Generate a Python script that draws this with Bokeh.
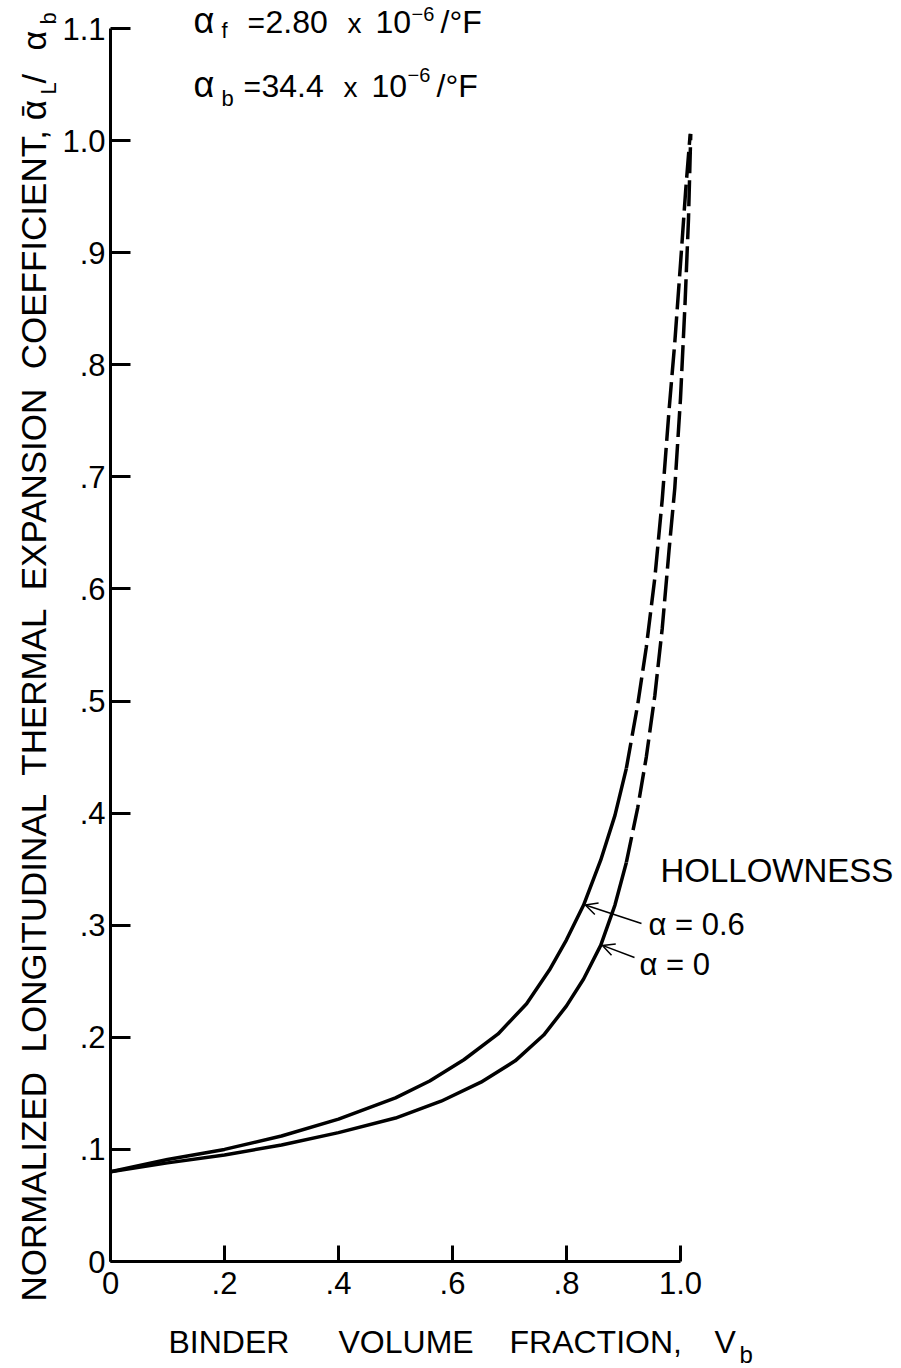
import math
from bokeh.plotting import figure
from bokeh.models import Label, Arrow, OpenHead, FixedTicker, Range1d
from bokeh.embed import file_html
from bokeh.resources import INLINE

# ---------------- data ----------------
x_ticks = [0.0, 0.2, 0.4, 0.6, 0.8, 1.0]
x_tick_labels = ["0", ".2", ".4", ".6", ".8", "1.0"]
y_ticks = [0.0, 0.1, 0.2, 0.3, 0.4, 0.5, 0.6, 0.7, 0.8, 0.9, 1.0, 1.1]
y_tick_labels = ["0", ".1", ".2", ".3", ".4", ".5", ".6", ".7", ".8", ".9", "1.0", "1.1"]

# hollowness a = 0.6 (upper curve)
hollow06_x = [0.0, 0.10, 0.20, 0.30, 0.40, 0.50, 0.56, 0.62, 0.68, 0.73, 0.77, 0.80,
              0.83, 0.86, 0.885, 0.905, 0.925, 0.94, 0.955, 0.968, 0.98, 0.99, 1.0,
              1.009, 1.017]
hollow06_y = [0.080, 0.091, 0.100, 0.112, 0.127, 0.146, 0.161, 0.180, 0.203, 0.230,
              0.260, 0.287, 0.318, 0.358, 0.398, 0.440, 0.497, 0.548, 0.610, 0.680,
              0.760, 0.820, 0.890, 0.955, 1.006]
hollow06_dash_from = 15   # dashed from this point on
hollow06_arrow = 12       # arrow points here

# hollowness a = 0 (lower curve)
hollow0_x = [0.0, 0.10, 0.20, 0.30, 0.40, 0.50, 0.58, 0.65, 0.71, 0.76, 0.80, 0.83,
             0.86, 0.885, 0.905, 0.925, 0.94, 0.955, 0.968, 0.98, 0.99, 1.0, 1.008,
             1.014, 1.018]
hollow0_y = [0.080, 0.088, 0.095, 0.104, 0.115, 0.128, 0.143, 0.160, 0.179, 0.202,
             0.228, 0.252, 0.282, 0.318, 0.356, 0.405, 0.450, 0.505, 0.565, 0.635,
             0.690, 0.770, 0.855, 0.930, 1.006]
hollow0_dash_from = 14
hollow0_arrow = 12

# ---------------- layout ----------------
W, H = 901, 1368
X0PX, X1PX = 110, 680      # pixel of x=0 and x=1.0
Y0PY, Y1PY = 1261, 28      # pixel of y=0 and y=1.1
xscale = (X1PX - X0PX) / 1.0
yscale = (Y0PY - Y1PY) / 1.1
K = 0.37                   # baseline correction (fraction of font size)

def X(px):
    return (px - X0PX) / xscale

def Y(py):
    return (Y0PY - py) / yscale

FONT = "Liberation Sans"

p = figure(width=W, height=H, output_backend="svg", toolbar_location=None,
           x_range=Range1d(X(0), X(W)), y_range=Range1d(Y(H), Y(0)),
           min_border_left=0, min_border_right=0, min_border_top=0,
           min_border_bottom=0)
p.outline_line_color = None
p.grid.visible = False
p.background_fill_color = "white"
p.border_fill_color = "white"

xa = p.xaxis[0]
xa.fixed_location = 0
xa.bounds = (0, 1.0)
xa.ticker = FixedTicker(ticks=x_ticks)
xa.major_label_overrides = {t: l for t, l in zip(x_ticks, x_tick_labels)}
xa.major_tick_in = 16
xa.major_tick_out = 0
xa.minor_tick_in = 0
xa.minor_tick_out = 0
xa.axis_line_width = 3
xa.major_tick_line_width = 3
xa.major_label_text_font = FONT
xa.major_label_text_font_size = "31px"
xa.major_label_text_color = "black"
xa.major_label_standoff = 10

ya = p.yaxis[0]
ya.fixed_location = 0
ya.bounds = (0, 1.1)
ya.ticker = FixedTicker(ticks=y_ticks)
ya.major_label_overrides = {t: l for t, l in zip(y_ticks, y_tick_labels)}
ya.major_tick_in = 20
ya.major_tick_out = 0
ya.minor_tick_in = 0
ya.minor_tick_out = 0
ya.axis_line_width = 3
ya.major_tick_line_width = 3
ya.major_label_text_font = FONT
ya.major_label_text_font_size = "31px"
ya.major_label_text_color = "black"
ya.major_label_standoff = 5

# ---------------- curves ----------------
for xs, ys, k in [(hollow06_x, hollow06_y, hollow06_dash_from),
                  (hollow0_x, hollow0_y, hollow0_dash_from)]:
    p.line(xs[:k + 1], ys[:k + 1], line_color="black", line_width=3.5,
           line_join="round")
    p.line(xs[k:], ys[k:], line_color="black", line_width=3.5, line_dash="26 7",
           line_join="round")

# ---------------- texts ----------------
def lab(text, px, py, size, align="left", angle=0.0):
    if angle == 0.0:
        py = py - K * size
    else:
        px = px - K * size
    p.add_layout(Label(x=X(px), y=Y(py), text=text, text_font=FONT,
                       text_font_size=f"{size}px", text_color="black",
                       text_align=align, text_baseline="alphabetic", angle=angle))

# top annotations
lab("\u03b1", 193, 33, 36)
lab("f", 221, 38, 22)
lab("=", 247, 33, 30)
lab("2.80", 265, 33, 32)
lab("x", 347, 33, 28)
lab("10", 375, 33, 32)
lab("\u22126", 411, 21, 20)
lab("/\u00b0F", 440, 33, 32)

lab("\u03b1", 193, 97, 36)
lab("b", 221, 106, 22)
lab("=", 243, 97, 30)
lab("34.4", 261, 97, 32)
lab("x", 343, 97, 28)
lab("10", 371, 97, 32)
lab("\u22126", 407, 82, 20)
lab("/\u00b0F", 436, 97, 32)

# curve labels
lab("HOLLOWNESS", 660, 882, 33)
lab("\u03b1 = 0.6", 648, 935, 31)
lab("\u03b1 = 0", 639, 975, 31)

p.add_layout(Arrow(end=OpenHead(size=12, line_width=1.5, line_color="black"),
                   x_start=X(641), y_start=Y(923),
                   x_end=hollow06_x[hollow06_arrow] + 0.003,
                   y_end=hollow06_y[hollow06_arrow],
                   line_width=1.5, line_color="black"))
p.add_layout(Arrow(end=OpenHead(size=12, line_width=1.5, line_color="black"),
                   x_start=X(634), y_start=Y(957),
                   x_end=hollow0_x[hollow0_arrow] + 0.003,
                   y_end=hollow0_y[hollow0_arrow],
                   line_width=1.5, line_color="black"))

# x-axis title
lab("BINDER", 168, 1353, 32)
lab("VOLUME", 338, 1353, 32)
lab("FRACTION,", 509, 1353, 32)
lab("V", 714, 1353, 32)
lab("b", 739, 1363, 24)

# y-axis title (rotated, reads bottom to top)
ang = math.pi / 2
sp = " \u00a0"
lab(sp.join(["NORMALIZED", "LONGITUDINAL", "THERMAL", "EXPANSION",
             "COEFFICIENT,"]) + " \u1fb1", 46, 97, 35, align="right", angle=ang)
lab("L", 56, 94, 22, angle=ang)
lab("/", 46, 83, 34, angle=ang)
lab("\u03b1", 46, 50, 34, angle=ang)
lab("b", 56, 24, 22, angle=ang)

open("out.html", "w").write(file_html(p, INLINE))
